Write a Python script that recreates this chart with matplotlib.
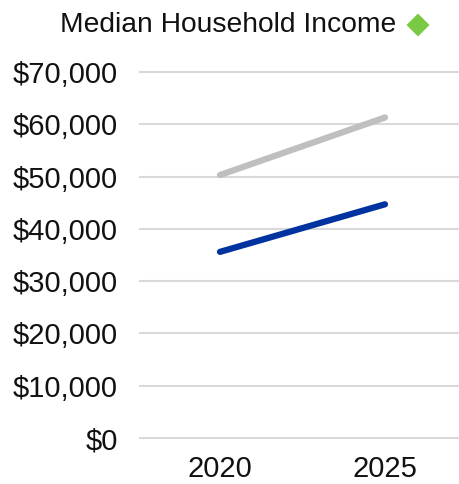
import matplotlib
matplotlib.use("Agg")
import matplotlib.pyplot as plt
from matplotlib.patches import Polygon

years = ["2020", "2025"]
series_gray = [50300, 61300]
series_blue = [35600, 44700]
yticks = [0, 10000, 20000, 30000, 40000, 50000, 60000, 70000]
ytick_labels = ["$0", "$10,000", "$20,000", "$30,000", "$40,000", "$50,000", "$60,000", "$70,000"]
title = "Median Household Income"

plt.rcParams['font.family'] = ['Liberation Sans', 'DejaVu Sans']

W, H = 459, 484
fig = plt.figure(figsize=(W / 100, H / 100), dpi=100)
ax = fig.add_axes([140 / W, 1 - 438 / H, (W - 140) / W, (438 - 72) / H])

x = list(range(len(years)))
ax.plot(x, series_gray, color="#BFBFBF", lw=4.5, solid_capstyle="round", zorder=3)
ax.plot(x, series_blue, color="#0033A0", lw=4.5, solid_capstyle="round", zorder=3)

ax.set_xlim(-80 / 165, 1 + 74 / 165)
ax.set_ylim(0, 70000)
ax.set_yticks(yticks)
ax.set_yticklabels(ytick_labels)
ax.set_xticks(x)
ax.set_xticklabels(years)
ax.tick_params(axis="both", length=0, labelsize=21, colors="#111111")
ax.tick_params(axis="y", pad=16)
ax.tick_params(axis="x", pad=12)
ax.grid(axis="y", color="#D9D9D9", lw=1.5)
for gl in ax.get_ygridlines():
    gl.set_clip_on(False)
ax.set_axisbelow(True)
for s in ax.spines.values():
    s.set_visible(False)

fig.text(228 / W, 1 - 25 / H, title, ha="center", va="center", fontsize=20.3, color="#111111")
cx, cy, r = 418, 25, 11.5
pts = [((cx) / W, 1 - (cy - r) / H), ((cx + r) / W, 1 - cy / H),
       (cx / W, 1 - (cy + r) / H), ((cx - r) / W, 1 - cy / H)]
fig.add_artist(Polygon(pts, closed=True, transform=fig.transFigure, color="#7AC943", lw=0))

fig.savefig("out.png", dpi=100)
